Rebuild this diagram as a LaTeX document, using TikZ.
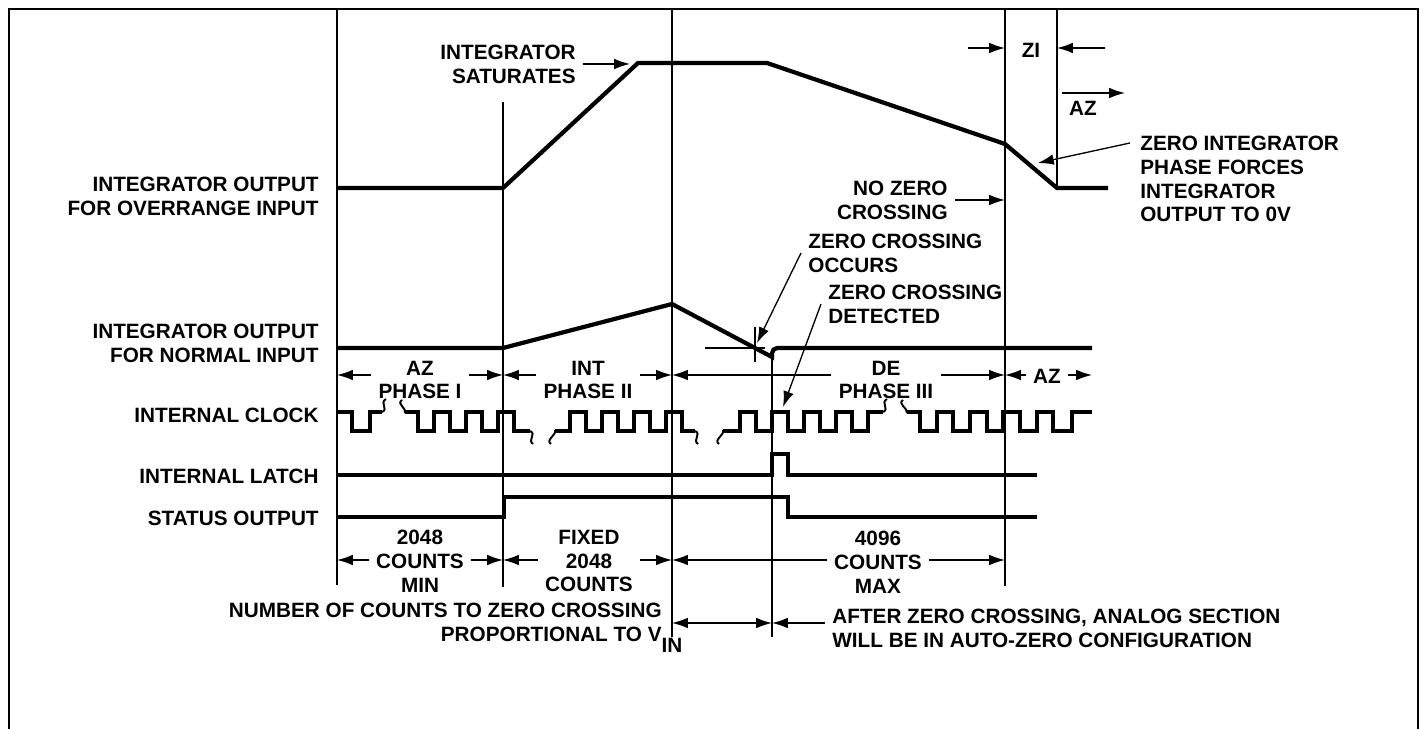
\documentclass[tikz,border=0pt]{standalone}
\usepackage{fontspec}
\setmainfont{Liberation Sans}
\usetikzlibrary{arrows.meta,calc}

\begin{document}
\begin{tikzpicture}[x=0.02cm,y=-0.02cm,inner sep=0pt,align=center,
  font=\fontsize{11.8}{13.6}\selectfont\bfseries,
  trace/.style={line width=2.4pt},
  guide/.style={line width=0.75pt},
  brk/.style={line width=1.1pt},
  dim/.style={line width=0.75pt,-{Latex[length=9pt,width=6pt]}},
  dimb/.style={line width=0.75pt,{Latex[length=9pt,width=6pt]}-{Latex[length=9pt,width=6pt]}},
  gap/.style={inner xsep=4pt}]
\useasboundingbox (0,0) rectangle (1427,729);
\draw[guide] (9,729) -- (9,9) -- (1418,9) -- (1418,729);

\coordinate (g0) at (337,9);
\coordinate (g1) at (503,102);
\coordinate (g2) at (672,9);
\coordinate (gz) at (772,358);
\coordinate (g3) at (1005,9);
\coordinate (g4) at (1057,9);
\coordinate (ra) at (0,375);
\coordinate (rc) at (0,560);
\coordinate (rb) at (0,623);
\draw[guide] (g0) -- (337,585);
\draw[guide] (g1) -- (503,587);
\draw[guide] (g2) -- (672,637);
\draw[guide] (gz) -- (772,637);
\draw[guide] (g3) -- (1005,586);
\draw[guide] (g4) -- (1057,187);

\node[anchor=east,align=right] (l1) at (319,196) {INTEGRATOR OUTPUT\\FOR OVERRANGE INPUT};
\node[anchor=east,align=right] (l2) at (319,343) {INTEGRATOR OUTPUT\\FOR NORMAL INPUT};
\node[anchor=east] (l3) at (319,415) {INTERNAL CLOCK};
\node[anchor=east] (l4) at (319,476) {INTERNAL LATCH};
\node[anchor=east] (l5) at (319,518) {STATUS OUTPUT};

\draw[trace] (337,188) -- (503,188) -- (638,63) -- (767,63) -- (1005,144) -- (1057,188) -- (1108,188);
\draw[trace] (337,348) -- (503,348) -- (672,304) -- (772,357) {[rounded corners=3pt] -- (772,348) -- (1092,348)};
\draw[guide] (705,348) -- (765,348);
\draw[guide] (755,327) -- (755,362);

\draw[trace] (338,412) -| (352,431) -| (370,412) -- (382,412);
\draw[trace] (405,412) -| (418,431) -| (434,412) -| (450,431) -| (466,412) -| (482,431) -| (498,412) -| (514,431) -- (530,431);
\draw[trace] (555,431) -| (570,412) -| (586,431) -| (602,412) -| (618,431) -| (634,412) -| (650,431) -| (666,412) -| (682,431) -- (695,431);
\draw[trace] (723,431) -| (740,412) -| (756,431) -| (772,412) -| (788,431) -| (804,412) -| (820,431) -| (836,412) -| (852,431) -| (868,412) -- (883,412);
\draw[trace] (907,412) -| (920,431) -| (937,412) -| (953,431) -| (970,412) -| (987,431) -| (1003,412) -| (1020,431) -| (1037,412) -| (1053,431) -| (1072,412) -- (1092,412);
\draw[brk] (382,412) .. controls (389,409) and (379,403) .. (386,399);
\draw[brk] (402,400) .. controls (396,404) and (407,408) .. (405,413);
\draw[brk] (530,431) .. controls (537,434) and (527,440) .. (533,444);
\draw[brk] (551,444) .. controls (545,440) and (557,435) .. (555,430);
\draw[brk] (695,431) .. controls (702,434) and (692,440) .. (698,444);
\draw[brk] (719,444) .. controls (713,440) and (725,435) .. (723,430);
\draw[brk] (883,412) .. controls (890,409) and (880,403) .. (887,399);
\draw[brk] (903,400) .. controls (897,404) and (908,408) .. (907,413);

\draw[trace] (337,475) -| (772,454) -| (788,475) -- (1037,475);
\draw[trace] (337,517) -| (504,497) -| (788,517) -- (1037,517);

\node[gap] (ph1) at (420,380) {AZ\\PHASE I};
\node[gap] (ph2) at (588,380) {INT\\PHASE II};
\node[gap] (ph3) at (886,380) {DE\\PHASE III};
\node[gap] (ph4) at (1047,376) {AZ};
\coordinate (pe) at (1092,375);
\draw[dim] (ph1.west |- ra) -- (g0 |- ra);
\draw[dim] (ph1.east |- ra) -- (g1 |- ra);
\draw[dim] (ph2.west |- ra) -- (g1 |- ra);
\draw[dim] (ph2.east |- ra) -- (g2 |- ra);
\draw[dim] (ph3.west |- ra) -- (g2 |- ra);
\draw[dim] (ph3.east |- ra) -- (g3 |- ra);
\draw[dim] (ph4.west |- ra) -- (g3 |- ra);
\draw[dim] (ph4.east |- ra) -- (pe);

\node[gap] (c1) at (420,561) {2048\\COUNTS\\MIN};
\node[gap] (c2) at (589,561) {FIXED\\2048\\COUNTS};
\node[gap] (c3) at (878,562) {4096\\COUNTS\\MAX};
\draw[dim] (c1.west |- rc) -- (g0 |- rc);
\draw[dim] (c1.east |- rc) -- (g1 |- rc);
\draw[dim] (c2.west |- rc) -- (g1 |- rc);
\draw[dim] (c2.east |- rc) -- (g2 |- rc);
\draw[dim] (c3.west |- rc) -- (g2 |- rc);
\draw[dim] (c3.east |- rc) -- (g3 |- rc);

\node[anchor=east,align=right] (n1) at (662,628) {NUMBER OF COUNTS TO ZERO CROSSING\\PROPORTIONAL TO V\rlap{\raisebox{-1ex}{IN}}};
\node[gap,anchor=west,align=left] (n2) at (825,628) {AFTER ZERO CROSSING, ANALOG SECTION\\WILL BE IN AUTO-ZERO CONFIGURATION};
\draw[dimb] (g2 |- rb) -- (gz |- rb);
\draw[dim] (n2.west |- rb) -- (gz |- rb);

\node[gap,anchor=east,align=right] (s1) at (583,64) {INTEGRATOR\\SATURATES};
\coordinate (sp) at (630,64);
\draw[dim] (s1.east) -- (sp);

\node[gap,anchor=east,align=right] (s2) at (955,200) {NO ZERO\\CROSSING};
\draw[dim] (s2.east) -- (g3 |- s2.east);

\node[gap,anchor=west,align=left] (s3) at (801,253) {ZERO CROSSING\\OCCURS};
\coordinate (zc) at (757,343);
\draw[dim] (s3.west) -- (zc);

\node[gap,anchor=west,align=left] (s4) at (821,304) {ZERO CROSSING\\DETECTED};
\coordinate (zd) at (783,407);
\draw[dim] (s4.west) -- (zd);

\node (zi) at (1031,50) {ZI};
\coordinate (zl) at (968,48);
\coordinate (zr) at (1105,48);
\draw[dim] (zl) -- (g3 |- zl);
\draw[dim] (zr) -- (g4 |- zr);

\node (az) at (1083,108) {AZ};
\coordinate (as) at (1062,93);
\draw[dim] (as) -- ++(63,0);

\node[anchor=west,align=left] (s5) at (1140,179) {ZERO INTEGRATOR\\PHASE FORCES\\INTEGRATOR\\OUTPUT TO 0V};
\coordinate (zt) at (1038,163);
\draw[dim] ($(s5.west)+(-10,-36)$) -- (zt);
\end{tikzpicture}
\end{document}
